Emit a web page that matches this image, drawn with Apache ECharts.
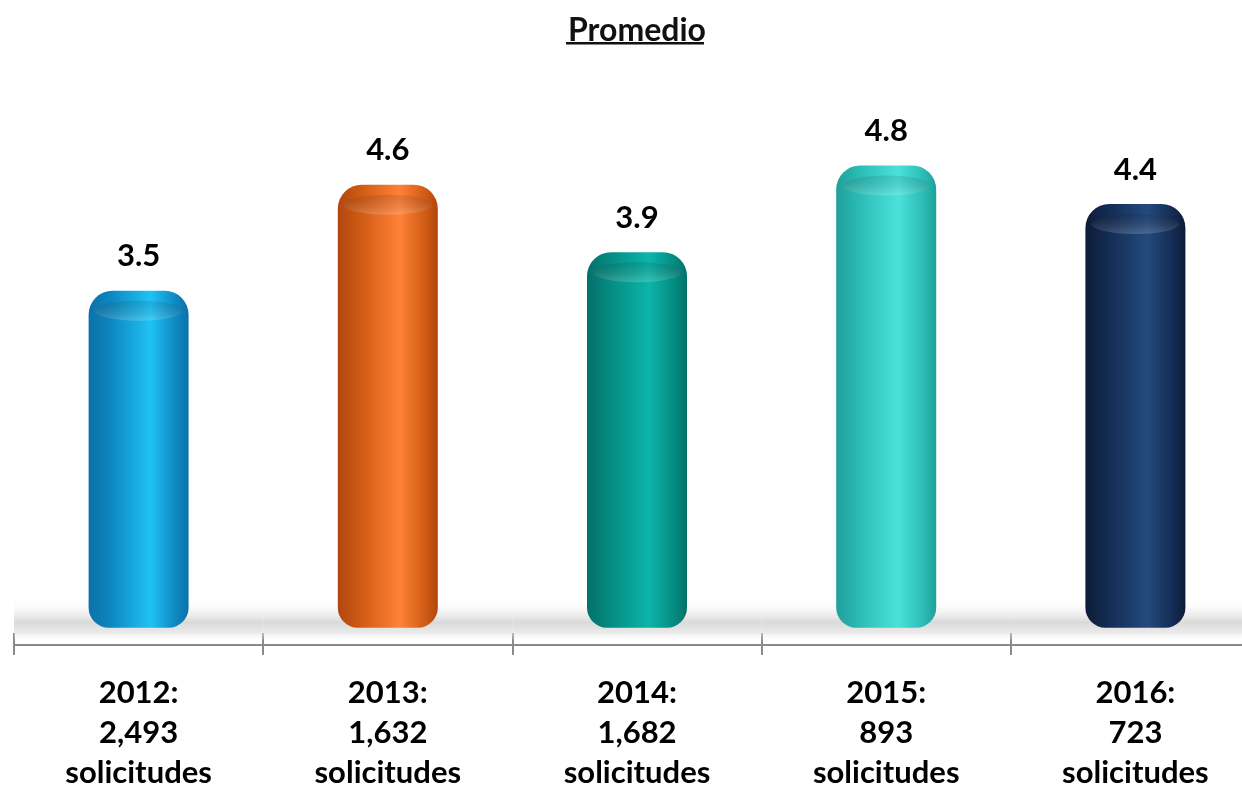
<!DOCTYPE html>
<html><head><meta charset="utf-8">
<script src="https://cdn.jsdelivr.net/npm/echarts@6/dist/echarts.min.js"></script>
<style>html,body{margin:0;padding:0;background:#fff}#c{width:1242px;height:789px}</style>
</head><body><div id="c"></div>
<script>
const years = ['2012', '2013', '2014', '2015', '2016'];
const requests = ['2,493', '1,632', '1,682', '893', '723'];
const averages = [3.5, 4.6, 3.9, 4.8, 4.4];
const tones = [
  ['#0a72a8', '#1fc2f6', '#0e86bf'],
  ['#b1470f', '#ff8236', '#cf5a14'],
  ['#03716a', '#0bb5aa', '#058a80'],
  ['#1f9f9a', '#4ae2db', '#2bbab4'],
  ['#0c1c37', '#244a7e', '#132b52']
];
const categories = years.map((y, i) => y + ':\n' + requests[i] + '\nsolicitudes');

const chart = echarts.init(document.getElementById('c'));
const font = 'Lato';
chart.setOption({
  animation: false,
  title: {
    text: 'Promedio', left: 563, top: 10,
    textStyle: { fontFamily: font, fontWeight: 'bold', fontSize: 32, color: '#111' }
  },
  graphic: [{ type: 'rect', shape: { x: 566, y: 42, width: 138, height: 2.5 }, style: { fill: '#111' } }],
  grid: { left: 14, width: 1246, top: 50, bottom: 144, outerBoundsMode: 'none', containLabel: false },
  xAxis: [{
    type: 'category', data: categories,
    axisLine: { onZero: false, lineStyle: { color: '#8a8a8a', width: 2 } },
    axisTick: { show: true, length: 10, lineStyle: { color: '#8a8a8a', width: 2 } },
    axisLabel: { margin: 28, fontFamily: font, fontWeight: 'bold', fontSize: 31, lineHeight: 40, color: '#000' }
  }, {
    type: 'category', data: categories, position: 'bottom',
    axisLine: { show: false, onZero: false },
    axisTick: { show: true, inside: true, length: 12, lineStyle: { color: '#8a8a8a', width: 2 } },
    axisLabel: { show: false }
  }],
  yAxis: { type: 'value', min: -0.18, max: 6, show: false, splitLine: { show: false } },
  series: [{
    type: 'custom', xAxisIndex: 0, silent: true, z: 1,
    data: years.map((y, i) => [i]),
    renderItem: function (params, api) {
      const c = api.coord([api.value(0), 0]);
      const size = api.size([1, 0]);
      const top = api.coord([api.value(0), 0.3])[1];
      const bot = api.coord([api.value(0), -0.14])[1];
      return {
        type: 'rect',
        shape: { x: c[0] - size[0] / 2, y: top, width: size[0], height: bot - top },
        style: {
          fill: new echarts.graphic.LinearGradient(0, 0, 0, 1, [
            { offset: 0, color: 'rgba(255,255,255,0)' },
            { offset: 0.55, color: 'rgba(205,205,205,0.75)' },
            { offset: 0.8, color: 'rgba(220,220,220,0.6)' },
            { offset: 1, color: 'rgba(255,255,255,0)' }
          ])
        }
      };
    }
  }, {
    type: 'bar', z: 3, barWidth: 100,
    data: averages.map((v, i) => ({
      value: v,
      itemStyle: {
        borderRadius: [24, 24, 20, 20],
        color: new echarts.graphic.LinearGradient(0, 0, 1, 0, [
          { offset: 0, color: tones[i][0] },
          { offset: 0.22, color: tones[i][2] },
          { offset: 0.62, color: tones[i][1] },
          { offset: 0.88, color: tones[i][2] },
          { offset: 1, color: tones[i][0] }
        ])
      }
    })),
    label: {
      show: true, position: 'top', distance: 19,
      fontFamily: font, fontWeight: 'bold', fontSize: 31, color: '#000',
      formatter: p => p.value.toFixed(1)
    }
  }, {
    type: 'pictorialBar', z: 4, silent: true,
    symbol: 'circle', symbolSize: [88, 20], symbolPosition: 'end', symbolOffset: [0, 10],
    data: averages.map((v, i) => ({
      value: v,
      itemStyle: {
        color: new echarts.graphic.LinearGradient(0, 0, 0, 1, [
          { offset: 0, color: 'rgba(0,0,0,0.10)' },
          { offset: 1, color: 'rgba(255,255,255,0.18)' }
        ])
      }
    }))
  }]
});
</script></body></html>
